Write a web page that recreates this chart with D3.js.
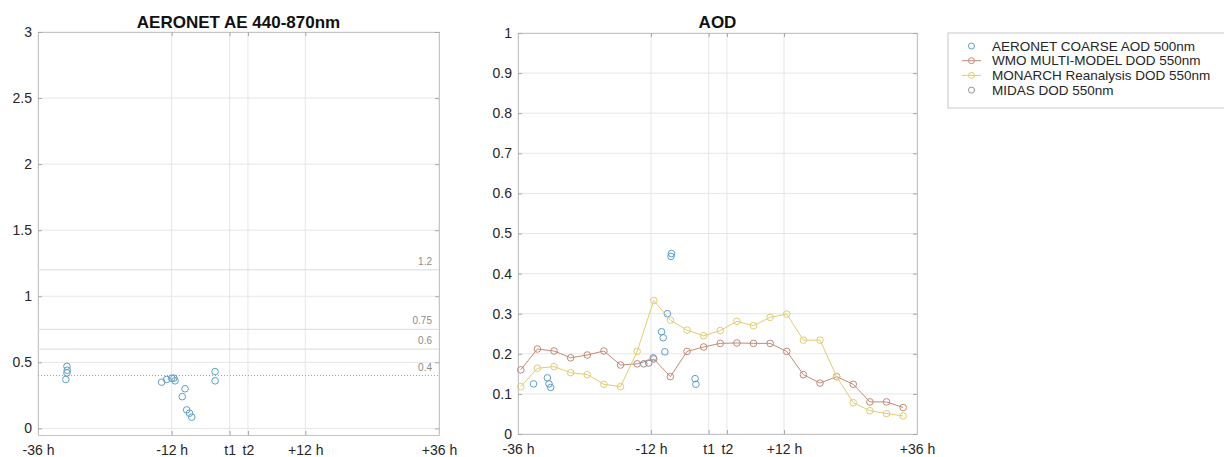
<!DOCTYPE html>
<html>
<head>
<meta charset="utf-8">
<script src="https://cdn.jsdelivr.net/npm/d3@7"></script>
<style>
  body { margin: 0; background: #fff; }
  text { font-family: 'Liberation Sans', Arial, sans-serif; }
</style>
</head>
<body>
<div id="chart"></div>
<script>
// x axis: hours around the event, t1 / t2 are the overpass marks
const xTickValues = [-36, -12, -1.6, 1.7, 12, 36];
const xTickLabels = ['-36 h', '-12 h', 't1', 't2', '+12 h', '+36 h'];

// AERONET AE 440-870nm
const aeHours = [-31.0, -30.8, -30.8, -30.75, -13.8, -12.9, -12.0, -11.6, -11.4, -10.1, -9.6, -9.3, -8.8, -8.4, -4.2, -4.2];
const aeValues = [0.37, 0.42, 0.47, 0.44, 0.35, 0.37, 0.38, 0.38, 0.36, 0.24, 0.30, 0.14, 0.115, 0.085, 0.43, 0.36];
const aeTicks = [0, 0.5, 1, 1.5, 2, 2.5, 3];

// AE reference thresholds
const aeRefLevels = [0.4, 0.6, 0.75, 1.2];
const aeRefLabels = ['0.4', '0.6', '0.75', '1.2'];

// AOD panel
const aodTicks = [0, 0.1, 0.2, 0.3, 0.4, 0.5, 0.6, 0.7, 0.8, 0.9, 1];
const coarseHours = [-33.2, -30.7, -30.4, -30.1, -11.6, -10.1, -9.8, -9.5, -9.05, -8.4, -8.3, -4.05, -3.9];
const coarseValues = [0.125, 0.14, 0.125, 0.116, 0.19, 0.255, 0.24, 0.205, 0.30, 0.443, 0.45, 0.138, 0.124];
const modelHours = [-35.5, -32.5, -29.5, -26.5, -23.5, -20.5, -17.5, -14.5, -11.5, -8.5, -5.5, -2.5,
                    0.5, 3.5, 6.5, 9.5, 12.5, 15.5, 18.5, 21.5, 24.5, 27.5, 30.5, 33.5];
const wmoValues = [0.16, 0.212, 0.207, 0.19, 0.197, 0.207, 0.172, 0.175, 0.187, 0.143, 0.206, 0.217,
                   0.226, 0.227, 0.226, 0.226, 0.206, 0.148, 0.127, 0.143, 0.124, 0.08, 0.08, 0.066];
const monarchValues = [0.118, 0.164, 0.168, 0.153, 0.148, 0.124, 0.118, 0.206, 0.333, 0.284, 0.259, 0.245,
                       0.258, 0.281, 0.27, 0.291, 0.299, 0.234, 0.234, 0.143, 0.078, 0.058, 0.051, 0.045];
const midasHours = [-13.3, -12.4];
const midasValues = [0.175, 0.177];

const legendLabels = ['AERONET COARSE AOD 500nm', 'WMO MULTI-MODEL DOD 550nm', 'MONARCH Reanalysis DOD 550nm', 'MIDAS DOD 550nm'];
const colors = { coarse: '#5c9fc8', wmo: '#c48a78', monarch: '#e2cd72', midas: '#8e8e9a' };

const svg = d3.select('#chart')
    .append('svg')
    .attr('width', 1224)
    .attr('height', 457);

// one MATLAB-like axes box with grid, inward ticks and title
function makePanel(left, right, top, bottom, yDomain, yTicks, title) {
    const x = d3.scaleLinear().domain([-36, 36]).range([left, right]);
    const y = d3.scaleLinear().domain(yDomain).range([bottom, top]);
    const g = svg.append('g');

    g.append('g').selectAll('line')
        .data(xTickValues)
        .join('line')
        .attr('x1', d => x(d)).attr('x2', d => x(d))
        .attr('y1', top).attr('y2', bottom)
        .attr('stroke', '#e6e6e6');
    g.append('g').selectAll('line')
        .data(yTicks)
        .join('line')
        .attr('x1', left).attr('x2', right)
        .attr('y1', d => y(d)).attr('y2', d => y(d))
        .attr('stroke', '#e6e6e6');

    const styleAxis = a => {
        a.attr('font-family', null).attr('font-size', null);
        a.select('.domain').attr('stroke', '#c4c4c4');
        a.selectAll('.tick line').attr('stroke', '#a8a8a8');
        a.selectAll('.tick text').attr('fill', '#262626').attr('font-size', '14px');
    };

    g.append('g')
        .attr('transform', `translate(0,${bottom})`)
        .call(d3.axisBottom(x).tickValues(xTickValues).tickFormat((d, i) => xTickLabels[i])
            .tickSizeInner(-4).tickSizeOuter(0).tickPadding(10))
        .call(styleAxis);
    g.append('g')
        .attr('transform', `translate(0,${top})`)
        .call(d3.axisTop(x).tickValues(xTickValues).tickFormat('').tickSizeInner(-4).tickSizeOuter(0))
        .call(styleAxis);
    g.append('g')
        .attr('transform', `translate(${left},0)`)
        .call(d3.axisLeft(y).tickValues(yTicks).tickFormat(d => String(d))
            .tickSizeInner(-4).tickSizeOuter(0).tickPadding(6))
        .call(styleAxis);
    g.append('g')
        .attr('transform', `translate(${right},0)`)
        .call(d3.axisRight(y).tickValues(yTicks).tickFormat('').tickSizeInner(-4).tickSizeOuter(0))
        .call(styleAxis);

    svg.append('text')
        .attr('x', (left + right) / 2)
        .attr('y', 28)
        .attr('text-anchor', 'middle')
        .attr('font-size', '17px')
        .attr('font-weight', 'bold')
        .attr('fill', '#111')
        .text(title);

    return { x, y, g };
}

function drawCircles(p, hours, values, color) {
    p.g.append('g').selectAll('circle')
        .data(hours.map((h, i) => [h, values[i]]))
        .join('circle')
        .attr('cx', d => p.x(d[0]))
        .attr('cy', d => p.y(d[1]))
        .attr('r', 3.3)
        .attr('fill', 'none')
        .attr('stroke', color)
        .attr('stroke-width', 1);
}

function drawLine(p, hours, values, color) {
    p.g.append('path')
        .datum(hours.map((h, i) => [h, values[i]]))
        .attr('fill', 'none')
        .attr('stroke', color)
        .attr('stroke-width', 1)
        .attr('d', d3.line().x(d => p.x(d[0])).y(d => p.y(d[1])));
    drawCircles(p, hours, values, color);
}

// left panel: Angstrom exponent
const ae = makePanel(38, 439, 32, 435, [-0.05, 3], aeTicks, 'AERONET AE 440-870nm');

ae.g.append('g').selectAll('line')
    .data(aeRefLevels)
    .join('line')
    .attr('x1', 38).attr('x2', 439)
    .attr('y1', d => ae.y(d)).attr('y2', d => ae.y(d))
    .attr('stroke', (d, i) => i === 0 ? '#a0a0a0' : '#dadada')
    .attr('stroke-dasharray', (d, i) => i === 0 ? '1,2' : null);
ae.g.append('g').selectAll('text')
    .data(aeRefLevels)
    .join('text')
    .attr('x', 432)
    .attr('y', d => ae.y(d) - 5)
    .attr('text-anchor', 'end')
    .attr('font-size', '10px')
    .attr('fill', '#8c8c8c')
    .text((d, i) => aeRefLabels[i]);

drawCircles(ae, aeHours, aeValues, colors.coarse);

// right panel: AOD / DOD
const aod = makePanel(518, 917, 33, 434, [0, 1], aodTicks, 'AOD');
drawCircles(aod, coarseHours, coarseValues, colors.coarse);
drawLine(aod, modelHours, wmoValues, colors.wmo);
drawLine(aod, modelHours, monarchValues, colors.monarch);
drawCircles(aod, midasHours, midasValues, colors.midas);

// legend
const legend = svg.append('g');
legend.append('rect')
    .attr('x', 948).attr('y', 33)
    .attr('width', 290).attr('height', 75)
    .attr('fill', '#fff')
    .attr('stroke', '#c8c8c8');

const legendColors = [colors.coarse, colors.wmo, colors.monarch, colors.midas];
const legendHasLine = [false, true, true, false];
legendLabels.forEach((label, i) => {
    const ly = 46 + i * 14.7;
    if (legendHasLine[i]) {
        legend.append('line')
            .attr('x1', 962).attr('x2', 981)
            .attr('y1', ly).attr('y2', ly)
            .attr('stroke', legendColors[i]);
    }
    legend.append('circle')
        .attr('cx', 971.5).attr('cy', ly)
        .attr('r', 3)
        .attr('fill', 'none')
        .attr('stroke', legendColors[i]);
    legend.append('text')
        .attr('x', 992).attr('y', ly)
        .attr('dy', '0.35em')
        .attr('font-size', '13.5px')
        .attr('fill', '#262626')
        .text(label);
});
</script>
</body>
</html>
